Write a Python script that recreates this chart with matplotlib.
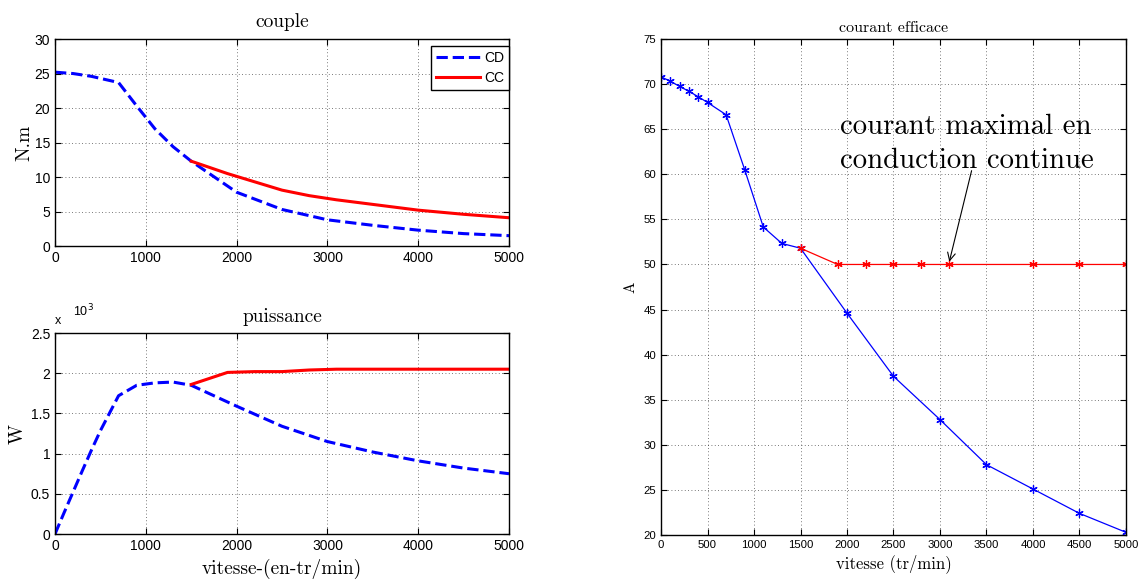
import matplotlib
matplotlib.use("Agg")
import matplotlib.pyplot as plt
from matplotlib.ticker import FuncFormatter, MultipleLocator

# vitesse (tr/min) for the CD points
speed_cd = [0, 100, 200, 300, 400, 500, 700, 900, 1100, 1300, 1500,
            2000, 2500, 3000, 3500, 4000, 4500, 5000]
torque_cd = [25.2, 25.1, 25.0, 24.8, 24.6, 24.3, 23.7, 20.3, 17.0, 14.4, 12.3,
             7.8, 5.3, 3.8, 3.0, 2.3, 1.8, 1.5]
power_cd = [0, 265, 525, 785, 1040, 1285, 1720, 1850, 1880, 1890, 1850,
            1590, 1340, 1150, 1020, 910, 820, 750]
current_cd = [70.8, 70.33, 69.74, 69.2, 68.6, 67.96, 66.6, 60.5, 54.15, 52.33, 51.8,
              44.6, 37.6, 32.8, 27.8, 25.1, 22.4, 20.3]

# CC points
speed_cc = [1500, 1900, 2200, 2500, 2800, 3100, 4000, 4500, 5000]
torque_cc = [12.3, 10.5, 9.3, 8.1, 7.3, 6.7, 5.2, 4.6, 4.1]
power_cc = [1860, 2010, 2020, 2020, 2040, 2050, 2050, 2050, 2050]
current_cc = [51.8, 50, 50, 50, 50, 50, 50, 50, 50]

SANS = "Liberation Sans"
SERIF = "cmr10"


def matlab_axes(ax, labelsize):
    ax.tick_params(direction="in", top=True, right=True, labelsize=labelsize,
                   length=4, width=0.8)
    for lab in ax.get_xticklabels() + ax.get_yticklabels():
        lab.set_fontfamily(SANS)
    ax.grid(True, color="k", linestyle=(0, (1, 3)), linewidth=0.6, alpha=0.7)
    for s in ax.spines.values():
        s.set_linewidth(1.0)


fig = plt.figure(figsize=(11.48, 5.83), dpi=100)
ax1 = fig.add_axes([0.0479, 0.578, 0.3955, 0.355])
ax2 = fig.add_axes([0.0479, 0.084, 0.3955, 0.3448])
ax3 = fig.add_axes([0.5758, 0.0823, 0.405, 0.8508])

# couple
ax1.plot(speed_cd, torque_cd, color="b", linestyle="--", linewidth=2.2, label="CD")
ax1.plot(speed_cc, torque_cc, color="r", linestyle="-", linewidth=2.2, label="CC")
ax1.set_xlim(0, 5000)
ax1.set_ylim(0, 30)
ax1.xaxis.set_major_locator(MultipleLocator(1000))
ax1.yaxis.set_major_locator(MultipleLocator(5))
ax1.set_title("couple", fontfamily=SERIF, fontsize=14, pad=9)
ax1.set_ylabel("N.m", fontfamily=SERIF, fontsize=14, labelpad=1)
leg = ax1.legend(loc="upper right", bbox_to_anchor=(1.0, 0.965), borderaxespad=0,
                 fancybox=False, edgecolor="k", framealpha=1,
                 prop={"family": SANS, "size": 10}, handlelength=3.2,
                 handletextpad=0.3, borderpad=0.35, labelspacing=0.4)
leg.get_frame().set_linewidth(1.0)
matlab_axes(ax1, 10)

# puissance
ax2.plot(speed_cd, power_cd, color="b", linestyle="--", linewidth=2.2)
ax2.plot(speed_cc, power_cc, color="r", linestyle="-", linewidth=2.2)
ax2.set_xlim(0, 5000)
ax2.set_ylim(0, 2500)
ax2.xaxis.set_major_locator(MultipleLocator(1000))
ax2.yaxis.set_major_locator(MultipleLocator(500))
ax2.yaxis.set_major_formatter(FuncFormatter(lambda v, p: f"{v / 1000:g}"))
ax2.set_title("puissance", fontfamily=SERIF, fontsize=14, pad=8)
ax2.set_ylabel("W", fontfamily=SERIF, fontsize=14, labelpad=3)
ax2.set_xlabel("vitesse-(en-tr/min)", fontfamily=SERIF, fontsize=14, labelpad=4)
ax2.text(0.0, 1.03, "x", transform=ax2.transAxes, fontfamily=SANS, fontsize=9,
         ha="left", va="bottom")
ax2.text(0.04, 1.07, r"10$^{3}$", transform=ax2.transAxes, fontfamily=SANS,
         fontsize=9, ha="left", va="bottom")
matlab_axes(ax2, 10)

# courant efficace
ax3.plot(speed_cd, current_cd, color="b", linewidth=0.9, marker=(6, 2, 0),
         markersize=6, markeredgewidth=0.9)
ax3.plot(speed_cc, current_cc, color="r", linewidth=0.9, marker=(6, 2, 0),
         markersize=6, markeredgewidth=0.9)
ax3.set_xlim(0, 5000)
ax3.set_ylim(20, 75)
ax3.xaxis.set_major_locator(MultipleLocator(500))
ax3.yaxis.set_major_locator(MultipleLocator(5))
ax3.set_title("courant efficace", fontfamily=SERIF, fontsize=11.5, pad=5)
ax3.set_ylabel("A", fontfamily=SERIF, fontsize=11, labelpad=4)
ax3.set_xlabel("vitesse (tr/min)", fontfamily=SERIF, fontsize=12, labelpad=3)
ax3.text(1930, 60.66, "courant maximal en\nconduction continue", fontfamily=SERIF,
         fontsize=20.7, ha="left", va="baseline", linespacing=1.39)
ax3.annotate("", xy=(3100, 50.3), xytext=(3340, 60.4),
             arrowprops=dict(arrowstyle="->", color="k", lw=0.8,
                             mutation_scale=14, shrinkA=0, shrinkB=0))
matlab_axes(ax3, 8.2)

fig.savefig("out.png", dpi=100)
